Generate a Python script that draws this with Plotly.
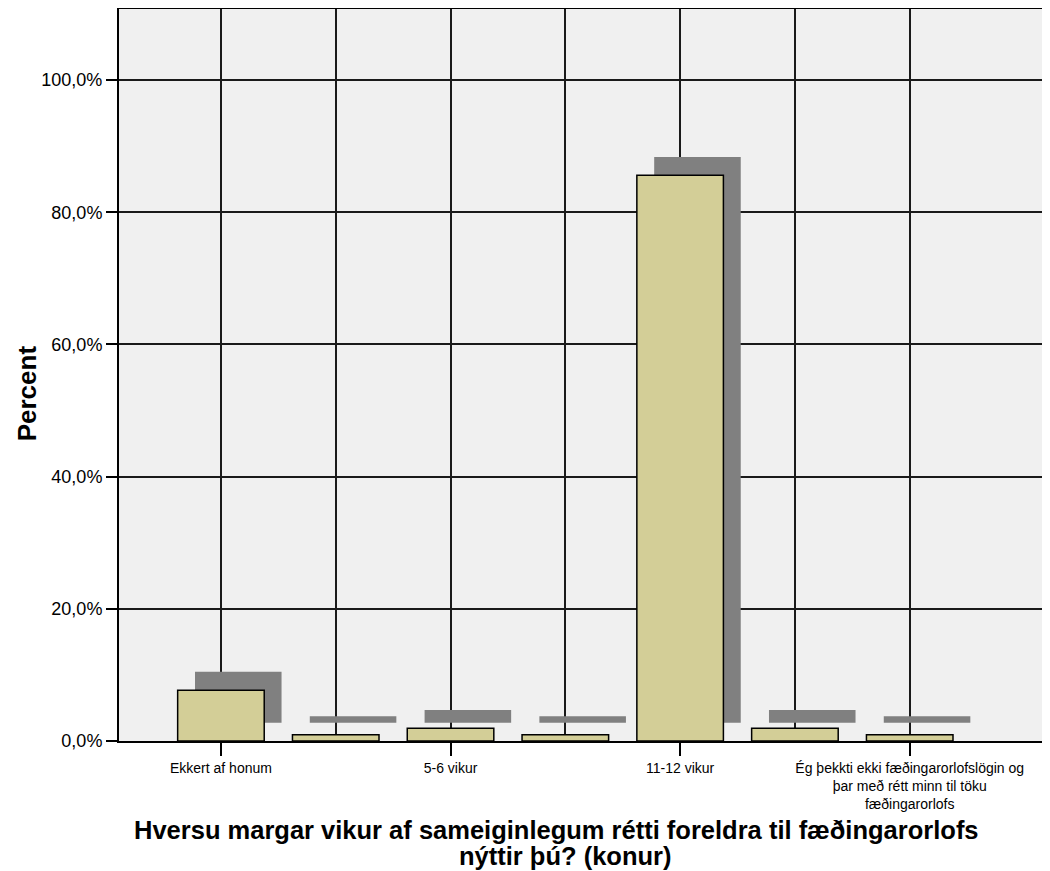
import plotly.graph_objects as go

# Data (percent of respondents)
categories = [
    "Ekkert af honum",
    "",
    "5-6 vikur",
    "",
    "11-12 vikur",
    "",
    "Ég þekkti ekki fæðingarorlofslögin og<br>þar með rétt minn til töku<br>fæðingarorlofs",
]
percent = [7.69, 0.96, 1.92, 0.96, 85.58, 1.92, 0.96]
y_ticks = [0, 20, 40, 60, 80, 100]
y_tick_labels = ["0,0%", "20,0%", "40,0%", "60,0%", "80,0%", "100,0%"]
x_title_lines = [
    "Hversu margar vikur af sameiginlegum rétti foreldra til fæðingarorlofs",
    "nýttir þú? (konur)",
]

positions = list(range(len(categories)))
labeled = [i for i, c in enumerate(categories) if c]
unlabeled = [i for i, c in enumerate(categories) if not c]

FONT = "Liberation Sans, Arial, sans-serif"
BAR_COLOR = "#d3ce97"
SHADOW_COLOR = "#808080"
GRID = "#1a1a1a"

# drop shadow offsets (axis units)
dx = 0.151
dy = 2.77
bar_w = 0.754

fig = go.Figure()

fig.add_trace(go.Bar(
    x=[p + dx for p in positions],
    y=percent,
    base=dy,
    width=bar_w,
    marker=dict(color=SHADOW_COLOR, line=dict(width=0)),
    showlegend=False,
    hoverinfo="skip",
))

fig.add_trace(go.Bar(
    x=positions,
    y=percent,
    width=bar_w,
    marker=dict(color=BAR_COLOR, line=dict(color="black", width=1.5)),
    showlegend=False,
    hovertemplate="%{y:.1f}%<extra></extra>",
))

# page body has an 8px margin, so the figure is sized to fit the window
fig.update_layout(
    width=1042,
    height=863,
    margin=dict(l=111, r=0, t=1, b=130),
    barmode="overlay",
    plot_bgcolor="#f0f0f0",
    paper_bgcolor="white",
    font=dict(family=FONT, color="black"),
)

fig.update_xaxes(
    range=[-0.888, 7.222],
    tickvals=labeled,
    ticktext=[categories[i] for i in labeled],
    ticks="outside",
    ticklen=13,
    tickwidth=2,
    tickcolor="black",
    tickfont=dict(size=14),
    showgrid=True,
    gridcolor=GRID,
    gridwidth=2,
    minor=dict(tickvals=unlabeled, showgrid=True, gridcolor=GRID, gridwidth=2, ticks=""),
    showline=True,
    linecolor="black",
    linewidth=2,
    mirror=True,
    zeroline=False,
)

fig.update_yaxes(
    range=[0, 110.74],
    tickvals=y_ticks,
    ticktext=y_tick_labels,
    ticks="outside",
    ticklen=11,
    tickwidth=2,
    tickcolor="black",
    tickfont=dict(size=18),
    showgrid=True,
    gridcolor=GRID,
    gridwidth=2,
    showline=True,
    linecolor="black",
    linewidth=2,
    zeroline=False,
)

fig.add_annotation(
    text="<b>Percent</b>",
    xref="paper", yref="paper",
    x=-0.0988, y=0.475,
    textangle=-90,
    showarrow=False,
    font=dict(size=26),
    xanchor="center", yanchor="middle",
)

# x title, two lines placed separately for tight line spacing
for line, xpx, ypx in zip(x_title_lines, [556, 565], [830, 856]):
    fig.add_annotation(
        text=f"<b>{line}</b>",
        xref="paper", yref="paper",
        x=(xpx - 119) / 931, y=(741 - ypx) / 732,
        showarrow=False,
        font=dict(size=25.5),
        xanchor="center", yanchor="middle",
    )

fig.write_html("out.html")
